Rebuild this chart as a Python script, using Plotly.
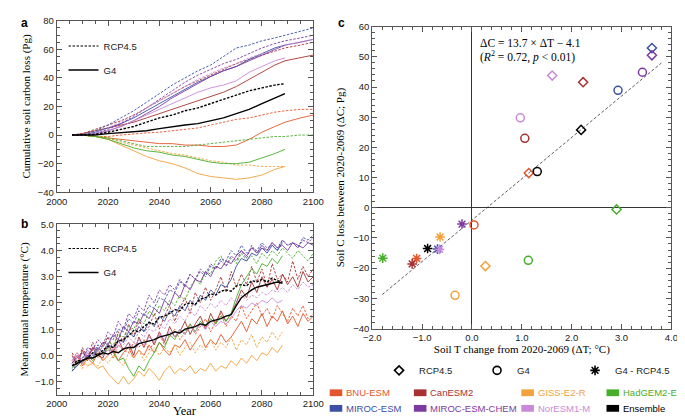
import plotly.graph_objects as go

SANS = "Liberation Sans, Arial, sans-serif"
SERIF = "Liberation Serif, Times New Roman, serif"
AXIS_COLOR = "#555555"
W, H = 685, 418

models = ["BNU-ESM", "CanESM2", "GISS-E2-R", "HadGEM2-ES",
          "MIROC-ESM", "MIROC-ESM-CHEM", "NorESM1-M", "Ensemble"]
colors = ["#E4572E", "#A83232", "#F2A23C", "#47AE2A",
          "#3B50A3", "#7D3A9E", "#C88AD8", "#000000"]

# ---- panel a: cumulative soil carbon loss (Pg) ----
years_a = [2006, 2010, 2015, 2020, 2025, 2030, 2035, 2040, 2045, 2050,
           2055, 2060, 2065, 2070, 2075, 2080, 2085, 2089, 2095, 2100]
bnu_c_rcp = [0, 0, -1, -1, 0, 1, 1.5, 2, 3, 4, 5, 7, 9, 11, 12, 14, 16, 17, 18, 18]
bnu_c_g4 = [0, 0, -1, -2, -3, -4, -5, -6, -6, -7, -7, -8, -8, -7, -3, 2, 6, 9, 12, 14]
can_c_rcp = [0, 1, 4, 7, 10, 14, 19, 24, 29, 34, 38, 42, 46, 50, 53, 56, 59, 61, 63, 65]
can_c_g4 = [0, 1, 3, 5, 7, 9, 12, 15, 18, 21, 24, 27, 30, 34, 39, 44, 49, 52, 54, 56]
giss_c_rcp = [0, 0, -1, -2, -5, -7, -9, -11, -13, -14, -16, -18, -19, -21, -21, -22, -22, -22]
giss_c_g4 = [0, 0, -1, -3, -7, -11, -15, -18, -20, -23, -27, -29, -30, -31, -30, -28, -24, -22]
had_c_rcp = [0, 0, -1, -2, -4, -6, -8, -8, -8, -8, -7, -6, -5, -4, -3, -2, -1, -1, 0, 0]
had_c_g4 = [0, 0, -1, -3, -6, -9, -11, -12, -14, -15, -17, -19, -20, -20, -19, -16, -13, -10]
miroc_c_rcp = [0, 0, 3, 7, 12, 17, 23, 29, 35, 40, 45, 49, 55, 61, 63, 66, 68, 70, 73, 75]
miroc_c_g4 = [0, 0, 2, 5, 8, 12, 17, 22, 27, 32, 37, 41, 45, 48, 53, 57, 61, 63]
chem_c_rcp = [0, 0, 1, 4, 8, 13, 19, 25, 31, 37, 42, 46, 50, 53, 57, 61, 64, 66, 68, 70]
chem_c_g4 = [0, 0, 1, 3, 6, 10, 15, 20, 26, 31, 36, 41, 45, 48, 52, 56, 60, 63, 65, 67]
nor_c_rcp = [0, 0, 1, 5, 9, 14, 19, 24, 29, 34, 39, 43, 47, 50, 54, 57, 60, 63, 65, 67]
nor_c_g4 = [0, 0, 1, 3, 6, 10, 14, 18, 22, 26, 30, 33, 35, 38, 44, 48, 52, 54]
ens_c_rcp = [0, 0, 0.5, 2, 4, 6, 9, 12, 14, 17, 19, 22, 25, 28, 31, 33, 35, 36]
ens_c_g4 = [0, 0, 0, 1, 1.5, 2, 3, 4.5, 6, 7, 8, 10, 12, 15, 18, 22, 26, 29]

# ---- panel b: mean annual soil temperature anomaly (degC) ----
years_b = list(range(2006, 2101, 2))
bnu_t_rcp = [-0.2, 0.1, -0.3, 0.0, 0.2, -0.1, 0.1, 0.3, -0.1, 0.4, 0.2, 0.1, 0.5, 0.3, 0.6, 0.2,
             0.5, 0.8, 0.4, 0.7, 1.0, 0.6, 0.9, 1.2, 0.8, 1.1, 1.4, 0.9, 1.3, 1.6, 1.1, 1.5,
             1.3, 1.9, 1.4, 1.7, 2.0, 1.5, 1.8, 1.4, 1.9, 1.6, 1.3, 1.8, 1.5, 1.9, 1.4, 1.6]
bnu_t_g4 = [-0.3, 0.0, -0.4, -0.1, -0.3, 0.1, -0.2, 0.0, 0.2, -0.2, 0.1, 0.3, -0.1, 0.2, 0.0, 0.4,
            0.1, 0.5, 0.2, 0.0, 0.4, 0.3, 0.6, 0.2, 0.5, 0.8, 0.3, 0.6, 0.4, 0.8, 0.5, 0.7,
            1.0, 1.3, 0.9, 1.4, 1.2, 1.6, 1.1, 1.5, 1.3, 1.7, 1.2, 1.5, 1.1, 1.6, 1.3, 1.5]
can_t_rcp = [0.1, -0.3, 0.3, -0.1, 0.5, 0.0, 0.4, 0.7, 0.2, 0.9, 0.5, 1.2, 0.7, 1.4, 0.9, 1.1,
             1.6, 1.0, 1.5, 1.9, 1.3, 1.8, 2.2, 1.6, 2.4, 2.0, 2.6, 2.1, 2.5, 3.0, 2.4, 3.2,
             2.6, 3.1, 2.7, 3.4, 2.8, 3.3, 2.6, 3.5, 2.9, 3.1, 2.8, 3.6, 2.9, 3.4, 3.0, 3.3]
can_t_g4 = [0.0, -0.4, 0.2, -0.2, 0.3, 0.0, -0.1, 0.4, 0.1, 0.6, 0.2, 0.5, 0.0, 0.7, 0.3, 0.8,
            0.4, 0.9, 0.5, 1.1, 0.7, 0.9, 1.3, 0.8, 1.2, 1.5, 1.0, 1.6, 1.2, 1.7, 1.3, 1.6,
            2.0, 2.5, 2.2, 2.8, 2.4, 3.0, 2.6, 2.9, 2.5, 3.1, 2.7, 3.0, 2.6, 3.2, 2.8, 3.0]
giss_t_rcp = [-0.4, -0.2, -0.5, -0.1, -0.3, -0.4, -0.1, -0.3, 0.0, -0.2, -0.4, 0.1, -0.1, 0.2,
              -0.2, 0.1, 0.3, 0.0, 0.3, 0.1, 0.4, 0.0, 0.3, 0.5, 0.1, 0.4, 0.2, 0.6, 0.2, 0.5,
              0.3, 0.7, 0.2, 0.6, 0.4, 0.8, 0.3, 0.7, 0.5, 0.9, 0.6, 0.9]
giss_t_g4 = [-0.4, -0.3, -0.2, -0.4, -0.3, -0.5, -0.4, -0.7, -0.9, -1.1, -0.8, -1.1, -0.9, -0.6,
             -0.8, -0.5, -0.7, -0.95, -0.6, -0.4, -0.7, -0.5, -0.6, -0.4, -0.7, -0.5, -0.6, -0.3,
             -0.6, -0.4, -0.5, -0.2, -0.4, -0.1, -0.3, 0.0, -0.2, 0.1, 0.0, 0.3, 0.1, 0.4]
had_t_rcp = [-0.6, -0.3, -0.1, 0.1, -0.1, 0.3, 0.1, 0.5, 0.4, 0.8, 0.7, 1.1, 1.0, 1.4, 1.2, 1.7,
             1.5, 1.9, 1.7, 2.1, 1.9, 2.3, 2.1, 2.6, 2.9, 2.7, 3.2, 3.1, 3.6, 3.8, 3.4, 3.7,
             3.5, 3.9, 3.6, 3.8, 3.5, 3.9, 3.7, 4.0, 3.8, 4.1, 3.9, 3.7, 4.0, 3.8, 3.6, 3.9]
had_t_g4 = [-0.5, -0.2, -0.3, 0.0, -0.2, 0.2, 0.0, 0.3, 0.1, -0.2, -0.1, -0.5, -0.8, -0.4,
            -0.6, -0.2, 0.1, 0.5, 0.3, 0.8, 0.6, 1.0, 0.8, 1.2, 0.9, 1.3, 1.1, 1.4, 1.2, 1.5,
            1.3, 1.6, 2.2, 2.7, 3.0, 3.3, 3.1, 3.5, 3.4, 3.7, 3.5, 3.8]
miroc_t_rcp = [-0.6, -0.3, -0.1, 0.2, 0.0, 0.4, 0.3, 0.7, 0.6, 1.0, 0.9, 1.4, 1.2, 1.7, 1.5, 1.9,
               1.8, 2.2, 2.1, 2.5, 2.4, 2.8, 2.7, 3.1, 2.9, 3.2, 3.0, 3.4, 3.3, 3.7, 3.6, 4.0,
               3.8, 4.2, 3.9, 4.1, 4.0, 4.3, 4.1, 4.2, 4.0, 4.4, 4.2, 4.3, 4.1, 4.5, 4.4, 4.6]
miroc_t_g4 = [-0.6, -0.4, -0.2, 0.0, -0.1, 0.3, 0.1, 0.4, 0.3, 0.6, 0.5, 0.9, 0.7, 1.1, 0.9, 1.3,
              1.1, 1.5, 1.3, 1.7, 1.5, 1.9, 1.7, 2.1, 1.9, 2.3, 2.1, 2.5, 2.3, 2.7, 2.6, 2.9,
              3.4, 3.7, 3.6, 3.9, 3.8, 4.1, 3.9, 4.2, 4.0, 4.3]
chem_t_rcp = [-0.3, 0.0, -0.2, 0.3, 0.2, 0.6, 0.4, 0.9, 0.7, 1.3, 1.0, 1.6, 1.4, 1.9, 1.7, 2.3,
              2.0, 2.5, 2.3, 2.7, 2.5, 2.9, 2.6, 3.1, 2.9, 3.3, 3.1, 3.5, 3.3, 3.6, 3.4, 3.8,
              3.6, 4.0, 3.7, 4.2, 3.9, 4.1, 4.0, 4.3, 4.1, 4.4, 4.2, 4.3, 4.1, 4.4, 4.3, 4.5]
chem_t_g4 = [-0.3, -0.1, 0.1, -0.1, 0.3, 0.2, 0.5, 0.4, 0.8, 0.6, 1.1, 0.9, 1.3, 1.2, 1.6, 1.4,
             1.8, 1.6, 2.1, 1.9, 2.4, 2.2, 2.7, 2.5, 2.9, 2.8, 3.2, 3.0, 3.4, 3.3, 3.6, 3.5,
             3.8, 4.0, 3.8, 4.1, 3.9, 4.2, 4.0, 4.3, 4.1, 4.2, 4.0, 4.3, 4.2, 4.1, 4.3, 4.2]
nor_t_rcp = [-0.1, 0.1, -0.2, 0.2, 0.0, 0.3, 0.1, 0.4, 0.2, 0.5, 0.4, 0.7, 0.5, 0.9, 0.7, 1.0,
             0.9, 1.2, 1.0, 1.4, 1.2, 1.5, 1.3, 1.7, 1.5, 1.9, 1.7, 2.0, 1.8, 2.1, 1.9, 2.2,
             2.0, 2.3, 2.1, 2.3, 2.2, 2.4, 2.3, 2.5, 2.4, 2.6, 2.4, 2.7, 2.5, 2.8, 2.6, 2.7]
nor_t_g4 = [-0.2, 0.0, -0.3, 0.1, -0.1, 0.2, 0.0, 0.2, 0.1, 0.4, 0.2, 0.5, 0.3, 0.6, 0.4, 0.7,
            0.5, 0.8, 0.6, 0.9, 0.7, 1.0, 0.8, 1.1, 0.9, 1.2, 1.0, 1.3, 1.1, 1.3, 1.2, 1.4,
            1.7, 1.9, 1.8, 2.0, 1.9, 2.1, 2.0, 2.2, 2.0, 2.1]
ens_t_rcp = [-0.4, -0.2, -0.2, -0.1, 0.1, 0.0, 0.2, 0.35, 0.3, 0.55, 0.6, 0.75, 0.95, 0.9,
             1.1, 1.25, 1.2, 1.45, 1.5, 1.6, 1.75, 1.7, 1.95, 2.0, 1.95, 2.15, 2.2, 2.35,
             2.3, 2.45, 2.5, 2.45, 2.65, 2.7, 2.65, 2.85, 2.8, 2.9, 2.8, 2.95, 2.85, 2.8]
ens_t_g4 = [-0.4, -0.3, -0.2, -0.1, -0.1, 0.0, 0.1, 0.05, 0.15, 0.1, 0.25, 0.3, 0.3, 0.45,
            0.5, 0.55, 0.6, 0.7, 0.75, 0.8, 0.9, 0.85, 1.0, 1.05, 1.1, 1.2, 1.15, 1.3, 1.35,
            1.4, 1.5, 1.55, 1.9, 2.2, 2.35, 2.5, 2.6, 2.65, 2.7, 2.75, 2.8, 2.75]

# ---- panel c: change over 2020-2069 ----
dT_rcp = [1.14, 2.23, 0.27, 2.90, 3.61, 3.61, 1.61, 2.19]
dC_rcp = [11.5, 41.6, -19.3, -0.55, 52.9, 50.5, 43.8, 25.8]
dT_g4 = [0.04, 1.06, -0.34, 1.13, 2.93, 3.42, 0.97, 1.31]
dC_g4 = [-5.7, 23.0, -29.0, -17.4, 38.9, 44.9, 29.8, 12.0]
dT_diff = [-1.11, -1.20, -0.64, -1.79, -0.69, -0.20, -0.65, -0.89]
dC_diff = [-16.8, -18.6, -9.7, -16.7, -13.7, -5.4, -13.8, -13.5]
fit_slope, fit_intercept = 13.7, -4.1
fit_x = [-1.8, 3.8]

carbon_rcp = [bnu_c_rcp, can_c_rcp, giss_c_rcp, had_c_rcp, miroc_c_rcp, chem_c_rcp, nor_c_rcp, ens_c_rcp]
carbon_g4 = [bnu_c_g4, can_c_g4, giss_c_g4, had_c_g4, miroc_c_g4, chem_c_g4, nor_c_g4, ens_c_g4]
temp_rcp = [bnu_t_rcp, can_t_rcp, giss_t_rcp, had_t_rcp, miroc_t_rcp, chem_t_rcp, nor_t_rcp, ens_t_rcp]
temp_g4 = [bnu_t_g4, can_t_g4, giss_t_g4, had_t_g4, miroc_t_g4, chem_t_g4, nor_t_g4, ens_t_g4]

DASH = "2.5px,1.5px"
TICK_FONT = dict(family=SANS, size=9.5, color="#222222")
TITLE_FONT = dict(family=SERIF, size=11, color="black")

fig = go.Figure()

# time series, panels a and b
for xa, ya, years, rcp_sets, g4_sets in [("x", "y", years_a, carbon_rcp, carbon_g4),
                                         ("x2", "y2", years_b, temp_rcp, temp_g4)]:
    for name, col, rcp, g4 in zip(models, colors, rcp_sets, g4_sets):
        w = 1.4 if name == "Ensemble" else 0.9
        fig.add_trace(go.Scatter(x=years[:len(rcp)], y=rcp, mode="lines", showlegend=False,
                                 line=dict(color=col, width=w, dash=DASH),
                                 xaxis=xa, yaxis=ya))
        fig.add_trace(go.Scatter(x=years[:len(g4)], y=g4, mode="lines", showlegend=False,
                                 line=dict(color=col, width=w),
                                 xaxis=xa, yaxis=ya))

# scenario legends inside a and b
for leg, xa, ya in [("legend", "x", "y"), ("legend2", "x2", "y2")]:
    fig.add_trace(go.Scatter(x=[None], y=[None], mode="lines", name="RCP4.5", legend=leg,
                             legendgroup=leg + "r", line=dict(color="black", width=1.1, dash=DASH),
                             xaxis=xa, yaxis=ya))
    fig.add_trace(go.Scatter(x=[None], y=[None], mode="lines", name="G4", legend=leg,
                             legendgroup=leg + "g", line=dict(color="black", width=1.4),
                             xaxis=xa, yaxis=ya))

# panel c
fig.add_trace(go.Scatter(x=fit_x, y=[fit_slope * v + fit_intercept for v in fit_x],
                         mode="lines", showlegend=False,
                         line=dict(color="#333333", width=0.8, dash="3px,2px"),
                         xaxis="x3", yaxis="y3"))
for xs, ys, sym, size in [(dT_rcp, dC_rcp, "diamond-open", 7),
                          (dT_g4, dC_g4, "circle-open", 8),
                          (dT_diff, dC_diff, "asterisk-open", 8)]:
    fig.add_trace(go.Scatter(x=xs, y=ys, mode="markers", showlegend=False,
                             marker=dict(symbol=sym, size=size, color=colors,
                                         line=dict(width=1.5, color=colors)),
                             xaxis="x3", yaxis="y3"))

# marker-style legend under panel c
for name, sym, size in [("RCP4.5", "diamond-open", 7), ("G4", "circle-open", 8),
                        ("G4 - RCP4.5", "asterisk-open", 8)]:
    fig.add_trace(go.Scatter(x=[None], y=[None], mode="markers", name=name, legend="legend3",
                             marker=dict(symbol=sym, size=size, color="black",
                                         line=dict(width=1.6, color="black")),
                             xaxis="x3", yaxis="y3"))


def px_x(v):
    return v / W


def px_y(v):
    return 1 - v / H


def axis(domain, rng, dtick, minor, fmt=None, **kw):
    d = dict(domain=domain, range=rng, dtick=dtick, tick0=0, showline=True,
             linecolor=AXIS_COLOR, linewidth=1, mirror="allticks", ticks="inside",
             ticklen=5, tickcolor=AXIS_COLOR, showgrid=False, zeroline=False,
             tickfont=TICK_FONT,
             minor=dict(dtick=minor, ticks="inside", ticklen=3, tickcolor=AXIS_COLOR,
                        showgrid=False))
    if fmt:
        d["tickformat"] = fmt
    d.update(kw)
    return d


xa_dom = [px_x(39), px_x(304)]
xc_dom = [px_x(365), px_x(674)]
legend_font = dict(family=SANS, size=9.5, color="#222222")

fig.update_layout(
    width=W, height=H, margin=dict(l=0, r=0, t=0, b=0),
    paper_bgcolor="white", plot_bgcolor="white",
    xaxis=axis(xa_dom, [2000, 2100], 20, 5, anchor="y"),
    yaxis=axis([px_y(183), px_y(7)], [-40, 80], 20, 5, anchor="x",
               title=dict(text="Cumulative soil carbon loss (Pg)", font=TITLE_FONT, standoff=4)),
    xaxis2=axis(xa_dom, [2000, 2100], 20, 5, anchor="y2"),
    yaxis2=axis([px_y(391), px_y(216)], [-1.5, 5.0], 1, 0.25, ".1f", anchor="x2",
                title=dict(text="Mean annual temperature (°C)", font=TITLE_FONT, standoff=4)),
    xaxis3=axis(xc_dom, [-2, 4], 1, 0.2, ".1f", anchor="y3", zeroline=True,
                zerolinecolor="#333333", zerolinewidth=1,
                title=dict(text="Soil T change from 2020-2069 (ΔT; °C)", font=TITLE_FONT,
                           standoff=3)),
    yaxis3=axis([px_y(323), px_y(13)], [-40, 60], 10, 2, anchor="x3", zeroline=True,
                zerolinecolor="#333333", zerolinewidth=1,
                title=dict(text="Soil C loss between 2020-2069 (ΔC; Pg)", font=TITLE_FONT,
                           standoff=6)),
    legend=dict(x=px_x(46), y=px_y(18), xanchor="left", yanchor="top",
                bgcolor="rgba(0,0,0,0)", tracegroupgap=5, font=legend_font),
    legend2=dict(x=px_x(46), y=px_y(226), xanchor="left", yanchor="top",
                 bgcolor="rgba(0,0,0,0)", tracegroupgap=5, font=legend_font),
    legend3=dict(x=px_x(372), y=px_y(366), xanchor="left", yanchor="middle",
                 orientation="h", entrywidth=53, entrywidthmode="pixels",
                 bgcolor="rgba(0,0,0,0)", font=legend_font),
)

# x title of panel b, kept inside the page
fig.add_annotation(x=(xa_dom[0] + xa_dom[1]) / 2, y=px_y(417), xref="paper", yref="paper",
                   xanchor="center", yanchor="bottom", showarrow=False, text="Year",
                   font=dict(family=SERIF, size=12.5, color="black"))

# colour key (two rows of four) below panel c
key_cols = [321, 408, 519, 607]
key_rows = [389, 405]
for i, (name, col) in enumerate(zip(models, colors)):
    x0 = key_cols[i % 4]
    yc = key_rows[i // 4]
    fig.add_shape(type="rect", xref="paper", yref="paper",
                  x0=px_x(x0), x1=px_x(x0 + 13), y0=px_y(yc + 3.5), y1=px_y(yc - 3.5),
                  fillcolor=col, line=dict(width=0))
    fig.add_annotation(x=px_x(x0 + 15), y=px_y(yc), xref="paper", yref="paper",
                       xanchor="left", yanchor="middle", showarrow=False, text=name,
                       font=dict(family=SANS, size=9.5, color=col))

# regression equation
fig.add_annotation(x=px_x(474), y=px_y(30), xref="paper", yref="paper", xanchor="left",
                   yanchor="middle", showarrow=False, text="ΔC = 13.7 × ΔT − 4.1",
                   font=dict(family=SERIF, size=11.5, color="black"))
fig.add_annotation(x=px_x(474), y=px_y(44), xref="paper", yref="paper", xanchor="left",
                   yanchor="middle", showarrow=False,
                   text="(<i>R</i><sup>2</sup> = 0.72, <i>p</i> < 0.01)",
                   font=dict(family=SERIF, size=11.5, color="black"))

# panel letters
for letter, x, y in [("a", 0, 0), ("b", 0, 206), ("c", 328, 0)]:
    fig.add_annotation(x=px_x(x), y=px_y(y), xref="paper", yref="paper", xanchor="left",
                       yanchor="top", showarrow=False, text="<b>%s</b>" % letter,
                       font=dict(family=SANS, size=12, color="black"))

fig.write_html("out.html")
